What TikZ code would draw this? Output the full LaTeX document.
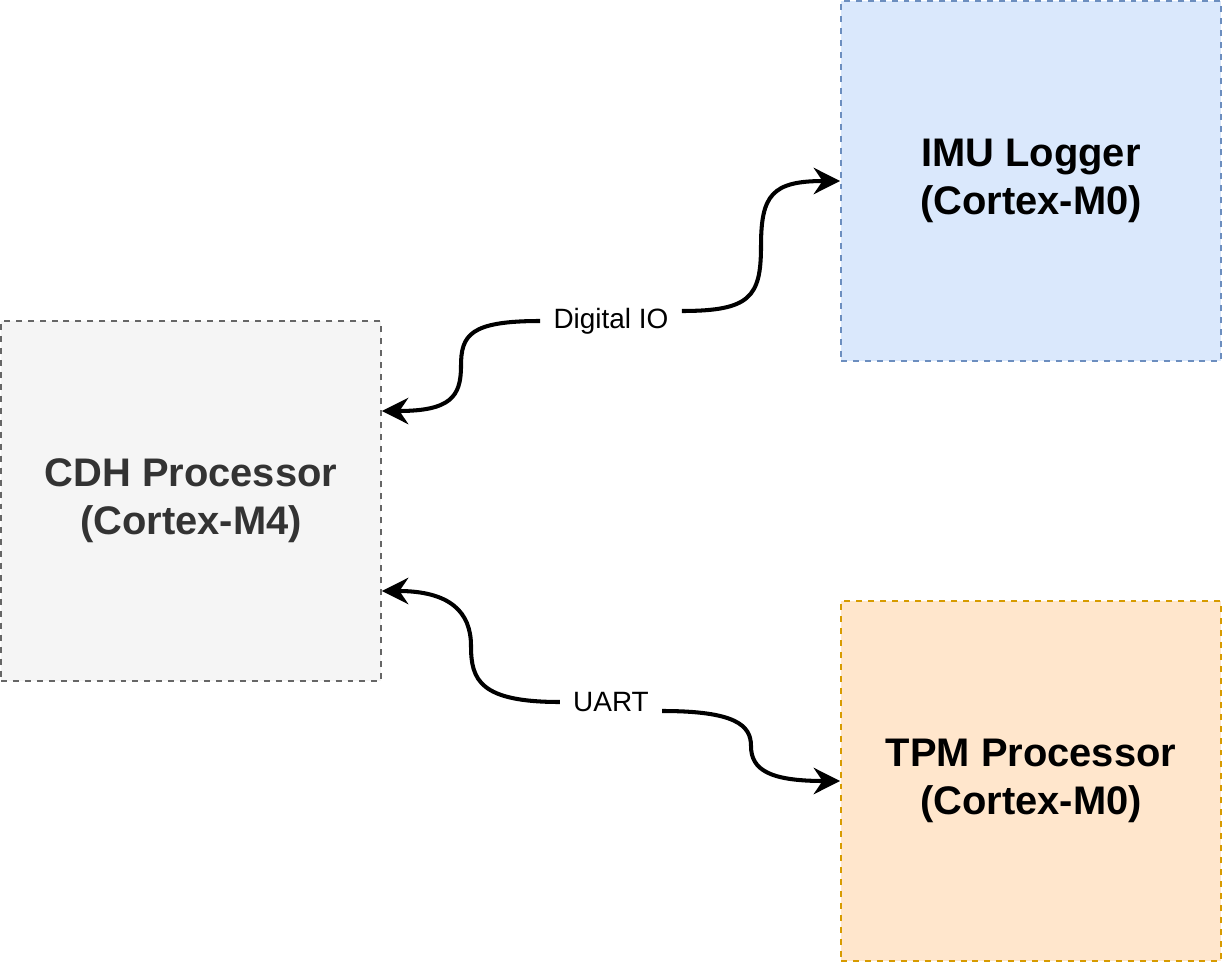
\documentclass[tikz,border=0pt]{standalone}
\usepackage{fontspec}
\setmainfont{Liberation Sans}
\usetikzlibrary{shapes,arrows.meta}
\definecolor{cdhfill}{HTML}{F5F5F5}
\definecolor{cdhdraw}{HTML}{666666}
\definecolor{cdhtext}{HTML}{333333}
\definecolor{imufill}{HTML}{DAE8FC}
\definecolor{imudraw}{HTML}{6C8EBF}
\definecolor{tpmfill}{HTML}{FFE6CC}
\definecolor{tpmdraw}{HTML}{D79B00}
\tikzstyle{proc}=[rectangle,draw,line width=1.1pt,dash pattern=on 3.4pt off 3.4pt,minimum width=7.6cm,minimum height=7.2cm,inner sep=0pt,align=center,font=\fontsize{22.7}{27.2}\selectfont\bfseries]
\tikzstyle{lbl}=[fill=white,inner xsep=7.4pt,inner ysep=2pt,font=\fontsize{15.9}{19}\selectfont]
\tikzstyle{link}=[line width=2.3pt,-{Stealth[length=15pt,width=15pt,inset=5pt]}]

\begin{document}
\begin{tikzpicture}[x=0.02cm,y=-0.02cm]
\useasboundingbox (0,0) rectangle (1222,962);
\node[proc,fill=cdhfill,draw=cdhdraw,text=cdhtext] (cdh) at (191,501) {CDH Processor\\(Cortex-M4)};
\node[proc,fill=imufill,draw=imudraw] (imu) at (1031,181) {IMU Logger\\(Cortex-M0)};
\node[proc,fill=tpmfill,draw=tpmdraw] (tpm) at (1031,781) {TPM Processor\\(Cortex-M0)};
\node[lbl] (dio) at (611,321) {Digital IO};
\node[lbl] (uart) at (611,702) {UART};
\draw[link] (dio.west) .. controls (470,321) and (461,335) .. (461,366) .. controls (461,397) and (450,411) .. ([yshift=1.8cm]cdh.east);
\draw[link] ([yshift=2mm]dio.east) .. controls (750,311) and (761,297) .. (761,246) .. controls (761,195) and (772,181) .. (imu.west);
\draw[link] (uart.west) .. controls (480,702) and (471,680) .. (471,646) .. controls (471,612) and (450,591) .. ([yshift=-1.8cm]cdh.east);
\draw[link] ([yshift=-1.8mm]uart.east) .. controls (735,711) and (751,725) .. (751,746) .. controls (751,770) and (770,781) .. (tpm.west);
%\draw[link] (cdh) -- (tpm);
\end{tikzpicture}
\end{document}
